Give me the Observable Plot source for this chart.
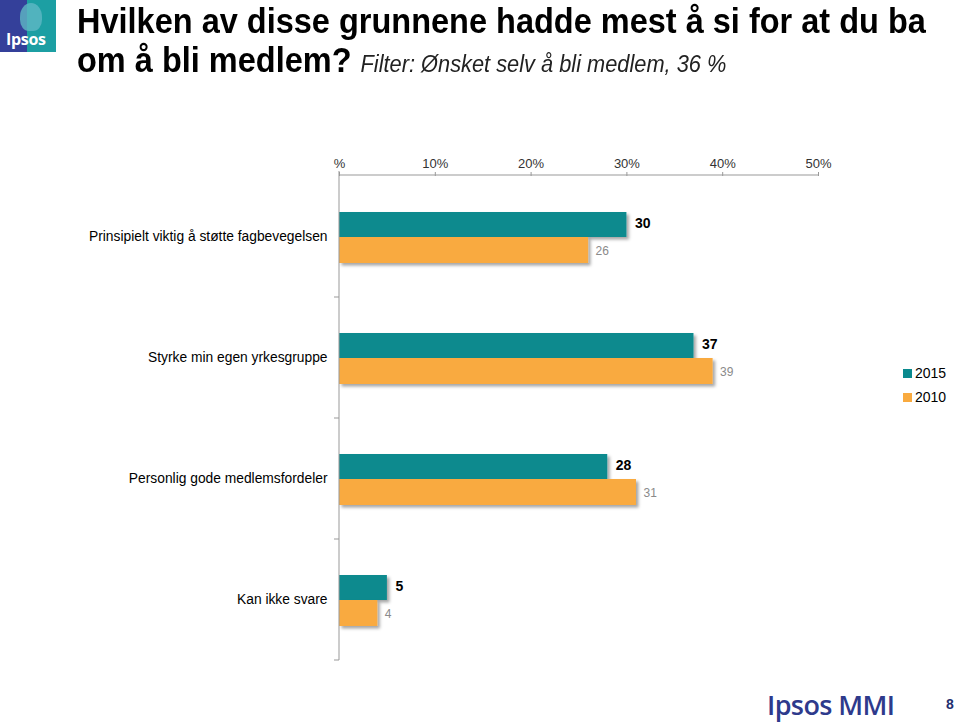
<!DOCTYPE html>
<html><head><meta charset="utf-8">
<script src="https://cdn.jsdelivr.net/npm/d3@7"></script>
<script src="https://cdn.jsdelivr.net/npm/@observablehq/plot@0.6"></script>
<style>
body{margin:0;width:960px;height:723px;position:relative;background:#fff;font-family:Arial,"Liberation Sans",sans-serif;overflow:hidden}
#logo{position:absolute;left:0;top:0;width:56px;height:52px;background:linear-gradient(90deg,#34409a 0 48%,#1c9fa3 48% 100%);overflow:hidden}
#logo .head{position:absolute;left:20px;top:3px;width:22px;height:28px;border-radius:50% 50% 40% 40%;background:#5fb8c4;opacity:.8}
#logo .txt{position:absolute;left:6px;top:28px;color:#fff;font:bold 16px "Open Sans",Arial,sans-serif;letter-spacing:-0.3px}
#title{position:absolute;left:77px;top:2px;font-weight:bold;font-size:32.5px;line-height:37px;color:#000;white-space:nowrap;transform-origin:0 0;transform:scaleY(1.06)}
#title .sub{font-weight:normal;font-style:italic;font-size:21.8px;color:#222}
#chart{position:absolute;left:0;top:130px}
#legend{position:absolute;left:903px;top:361px;font-size:14px;color:#000}
#legend .row{height:24px;display:flex;align-items:center}
#legend .sw{width:9px;height:9px;margin-right:3px}
#footer{position:absolute;left:767px;top:686px;font:600 27px "Open Sans",Arial,sans-serif;color:#2e3a8c;letter-spacing:-0.6px}
#page{position:absolute;left:946px;top:696px;font:bold 14px Arial,sans-serif;color:#1f2f6f}
g[aria-label="x-axis tick label"] text{font-size:13px;fill:#333}
g[aria-label="x-axis tick"]{stroke:#999 !important}
g[aria-label="y-axis tick label"] text{font-size:13.8px;fill:#000}
</style></head><body>
<div id="logo"><div class="head"></div><div class="txt">Ipsos</div></div>
<div id="title">Hvilken av disse grunnene hadde mest å si for at du ba<br>om å bli medlem? <span class="sub">Filter: Ønsket selv å bli medlem, 36 %</span></div>
<div id="chart"></div>
<div id="legend"></div>
<div id="footer">Ipsos MMI</div><div id="page">8</div>
<script>
const categories = ["Prinsipielt viktig å støtte fagbevegelsen","Styrke min egen yrkesgruppe","Personlig gode medlemsfordeler","Kan ikke svare"];
const values2015 = [30, 37, 28, 5];
const values2010 = [26, 39, 31, 4];
const years = ["2015", "2010"];
const colors = ["#0a8a8e", "#f9aa3f"];
const xTicks = [0, 10, 20, 30, 40, 50];

const d2015 = categories.map((c, i) => ({category: c, value: values2015[i]}));
const d2010 = categories.map((c, i) => ({category: c, value: values2010[i]}));

const plot = Plot.plot({
  width: 960, height: 550,
  marginTop: 45, marginBottom: 20, marginLeft: 339, marginRight: 142,
  style: {fontFamily: "Arial, 'Liberation Sans', sans-serif", background: "transparent"},
  x: {domain: [0, 50]},
  y: {domain: categories, padding: 0},
  marks: [
    Plot.axisX({anchor: "top", ticks: xTicks, tickSize: 4, tickPadding: 4, tickFormat: d => d === 0 ? "%" : d + "%", label: null}),
    Plot.axisY({tickSize: 0, tickPadding: 12, label: null}),
    Plot.barX(d2015, {x: "value", y: "category", fill: colors[0], insetTop: 36, insetBottom: 60}),
    Plot.barX(d2010, {x: "value", y: "category", fill: colors[1], insetTop: 61, insetBottom: 34}),
    Plot.text(d2015, {x: "value", y: "category", text: d => String(d.value), dx: 8, dy: -13, textAnchor: "start", fontWeight: "bold", fontSize: 14, fill: "#000"}),
    Plot.text(d2010, {x: "value", y: "category", text: d => String(d.value), dx: 7, dy: 14, textAnchor: "start", fontSize: 12, fill: "#8a8a8a"})
  ]
});
document.getElementById("chart").appendChild(plot);

// decorations derived from scales
const svg = d3.select(plot);
const xs = plot.scale("x"), ys = plot.scale("y");
const x0 = xs.apply(0), x1 = xs.apply(50);
const [yTop, yBot] = ys.range;
const defs = svg.insert("defs", ":first-child");
const f = defs.append("filter").attr("id", "sh").attr("x", "-10%").attr("y", "-30%").attr("width", "130%").attr("height", "180%");
f.append("feDropShadow").attr("dx", 2.5).attr("dy", 2.5).attr("stdDeviation", 1.5).attr("flood-color", "#000").attr("flood-opacity", 0.35);
svg.selectAll('g[aria-label="bar"]').attr("filter", "url(#sh)");
const ax = svg.append("g").attr("stroke", "#999").attr("fill", "none");
ax.append("line").attr("x1", x0).attr("x2", x1).attr("y1", yTop).attr("y2", yTop);
ax.append("line").attr("x1", x0).attr("x2", x0).attr("y1", yTop - 4).attr("y2", yBot);
categories.forEach(c => {
  const yb = ys.apply(c) + ys.bandwidth;
  ax.append("line").attr("x1", x0 - 5).attr("x2", x0).attr("y1", yb).attr("y2", yb);
});

// legend
const lg = d3.select("#legend");
years.forEach((y, i) => {
  const r = lg.append("div").attr("class", "row");
  r.append("div").attr("class", "sw").style("background", colors[i]);
  r.append("span").text(y);
});
</script>
</body></html>
